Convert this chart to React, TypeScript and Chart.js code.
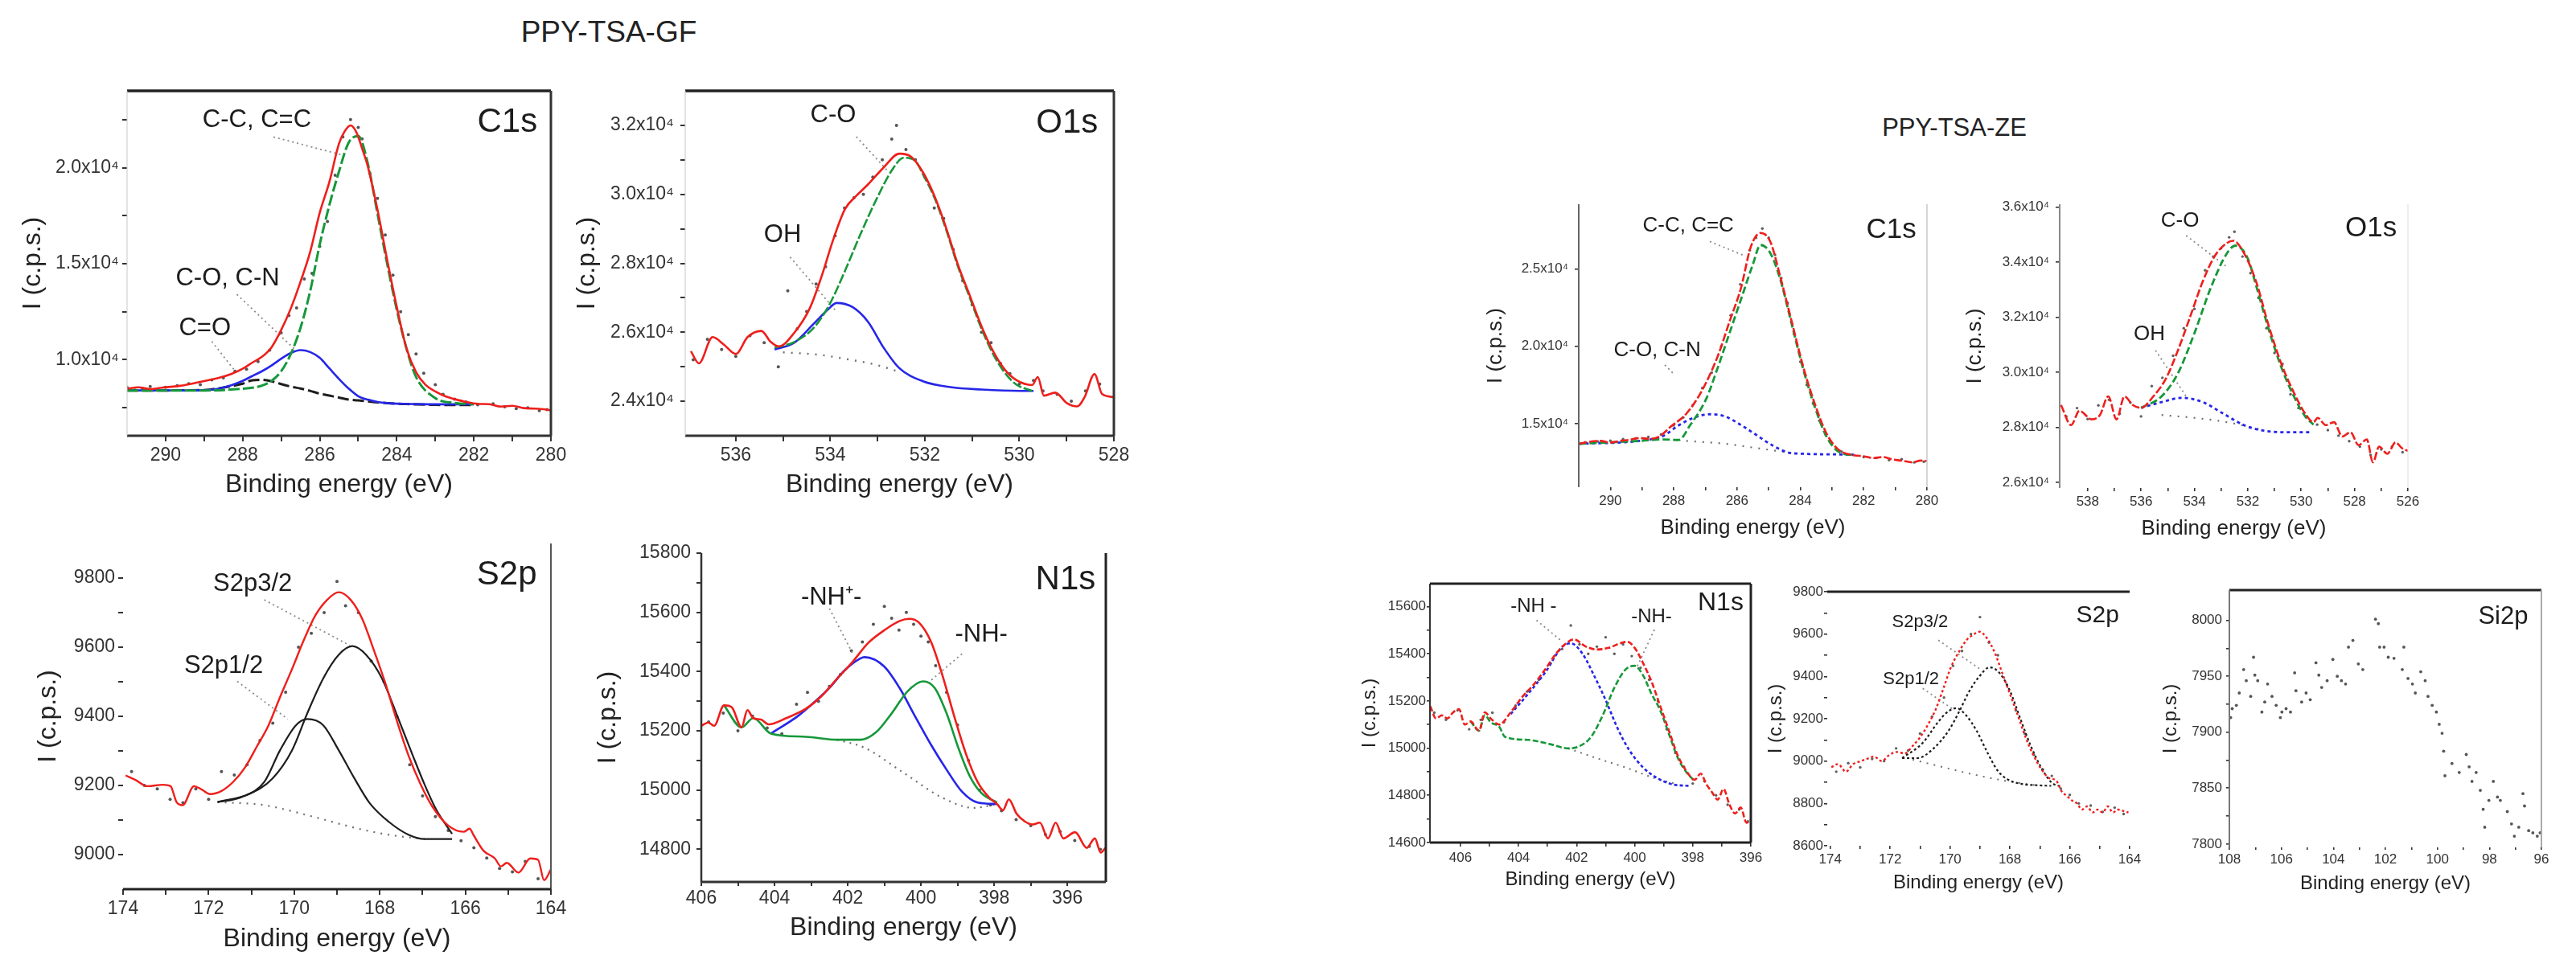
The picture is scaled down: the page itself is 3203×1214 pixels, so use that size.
import React, { useEffect, useRef } from "react";
import { Chart, registerables } from "chart.js";

Chart.register(...registerables);

const FONT = "'Liberation Sans', Arial, Helvetica, sans-serif";
const RED = "#ee1f1c";
const GREEN = "#16983a";
const BLUE = "#2626e8";
const BLACK = "#1e1e1e";
const BGC = "#707070";

// ================= PPY-TSA-GF : C1s =================
const C1S_GF_ENV_E = [291, 290.7, 290.4, 290.1, 289.8, 289.5, 289.2, 288.9, 288.6, 288.3, 288, 287.75, 287.5, 287.25, 287, 286.75, 286.5, 286.25, 286, 285.75, 285.5, 285.35, 285.2, 285.05, 284.9, 284.75, 284.5, 284.25, 284, 283.75, 283.5, 283.25, 283, 282.75, 282.5, 282.2, 281.9, 281.6, 281.3, 281, 280.7, 280.4, 280.1, 280];
const C1S_GF_ENV_I = [8490, 8560, 8470, 8540, 8600, 8680, 8800, 8930, 9060, 9250, 9530, 9850, 10150, 10650, 11550, 12670, 14050, 15600, 17650, 19250, 21250, 21900, 22200, 21850, 21000, 20050, 17800, 15200, 12750, 10600, 9350, 8680, 8350, 8100, 7950, 7800, 7700, 7680, 7560, 7600, 7480, 7450, 7400, 7350];
const C1S_GF_CMP_E = [291, 290, 289, 288.5, 288, 287.75, 287.5, 287.25, 287, 286.75, 286.5, 286.25, 286, 285.75, 285.5, 285.25, 285, 284.75, 284.5, 284.25, 284, 283.75, 283.5, 283, 282.5, 282];
const C1S_GF_CC_I = [8400, 8400, 8400, 8420, 8490, 8540, 8650, 8900, 9400, 10300, 11650, 13550, 16000, 18050, 19800, 21300, 21650, 20200, 17600, 15000, 12600, 10600, 9100, 8000, 7750, 7680];
const C1S_GF_CO_I = [8400, 8400, 8410, 8550, 8900, 9150, 9400, 9700, 10050, 10350, 10500, 10400, 10100, 9550, 9000, 8500, 8100, 7920, 7800, 7740, 7710, 7700, 7690, 7680, 7680, 7680];
const C1S_GF_CEQO_I = [8400, 8400, 8420, 8550, 8750, 8930, 8950, 8880, 8730, 8600, 8500, 8380, 8230, 8130, 8030, 7920, 7880, 7830, 7780, 7740, 7710, 7690, 7670, 7650, 7640, 7640];
const C1S_GF_RAW_E = [291.0, 290.8, 290.6, 290.4, 290.2, 290.0, 289.7, 289.4, 289.1, 288.8, 288.5, 288.2, 287.9, 287.6, 287.3, 287.0, 286.8, 286.6, 286.4, 286.2, 286.0, 285.8, 285.6, 285.4, 285.2, 285.0, 284.9, 284.7, 284.5, 284.3, 284.1, 283.9, 283.7, 283.5, 283.3, 283.0, 282.8, 282.5, 282.2, 281.9, 281.5, 281.2, 280.9, 280.6, 280.3, 280.1];
const C1S_GF_RAW_I = [8550, 8420, 8500, 8600, 8450, 8560, 8650, 8750, 8700, 8950, 9050, 9400, 9500, 9900, 10500, 11400, 12300, 12700, 14200, 14500, 15900, 17200, 19600, 21600, 22500, 22100, 21500, 19700, 18400, 16500, 14400, 12500, 11300, 10300, 9300, 8700, 8200, 7950, 7800, 7650, 7700, 7550, 7450, 7500, 7350, 7400];

// ================= PPY-TSA-GF : O1s =================
const O1S_GF_ENV_E = [536.95, 536.78, 536.49, 536.25, 536.0, 535.75, 535.46, 535.26, 535.09, 534.76, 534.43, 534.19, 533.94, 533.69, 533.44, 533.2, 532.87, 532.54, 532.29, 532.04, 531.79, 531.55, 531.3, 531.05, 530.8, 530.56, 530.31, 530.06, 529.73, 529.61, 529.48, 529.24, 528.99, 528.78, 528.62, 528.41, 528.25, 528.0];
const O1S_GF_ENV_I = [25450, 25100, 25860, 25640, 25370, 25860, 26040, 25720, 25590, 25990, 26710, 27600, 28680, 29570, 29970, 30290, 30780, 31180, 31090, 30640, 29930, 29030, 27960, 27070, 26170, 25460, 24920, 24610, 24470, 24700, 24160, 24250, 23940, 23850, 24120, 24790, 24210, 24120];
const O1S_GF_CO_E = [535.18, 534.76, 534.35, 534.02, 533.69, 533.36, 533.03, 532.7, 532.45, 532.21, 532.04, 531.79, 531.55, 531.3, 531.05, 530.8, 530.56, 530.31, 530.06, 529.73];
const O1S_GF_CO_I = [25550, 25720, 26130, 26800, 27780, 28850, 29840, 30690, 31060, 30980, 30580, 29880, 28980, 27910, 27010, 26100, 25380, 24830, 24480, 24300];
const O1S_GF_OH_E = [535.18, 534.76, 534.35, 534.02, 533.87, 533.53, 533.2, 532.87, 532.54, 532.04, 531.46, 530.8, 529.98, 529.7];
const O1S_GF_OH_I = [25500, 25700, 26250, 26700, 26850, 26730, 26300, 25550, 24960, 24580, 24410, 24340, 24300, 24300];
const O1S_GF_BG_E = [535.0, 534.19, 533.65, 533.07, 532.51];
const O1S_GF_BG_I = [25420, 25340, 25220, 25070, 24840];
const O1S_GF_RAW_E = [536.9, 536.6, 536.3, 536.0, 535.7, 535.4, 535.1, 534.9, 534.7, 534.5, 534.3, 534.1, 533.9, 533.7, 533.5, 533.3, 533.1, 532.9, 532.7, 532.6, 532.4, 532.2, 532.0, 531.8, 531.6, 531.4, 531.2, 531.0, 530.8, 530.6, 530.4, 530.2, 530.0, 529.7, 529.5, 529.2, 528.9, 528.6, 528.3];
const O1S_GF_RAW_I = [25200, 25800, 25500, 25300, 25900, 25700, 25000, 27200, 26100, 26600, 27400, 27900, 28800, 29600, 29900, 30000, 30500, 31000, 31600, 32000, 31300, 31000, 30500, 29600, 29300, 28400, 27500, 26800, 26000, 25700, 25100, 24800, 24500, 24600, 24300, 24200, 24000, 24300, 24500];

// ================= PPY-TSA-GF : S2p =================
const S2P_GF_ENV_E = [173.94, 173.71, 173.43, 173.07, 172.89, 172.75, 172.61, 172.34, 172.16, 171.97, 171.7, 171.42, 171.15, 170.88, 170.6, 170.33, 170.05, 169.78, 169.51, 169.23, 168.96, 168.68, 168.41, 168.14, 167.86, 167.59, 167.32, 167.04, 166.77, 166.4, 166.04, 165.9, 165.81, 165.58, 165.31, 165.17, 165.03, 164.76, 164.48, 164.3, 164.16, 164.0];
const S2P_GF_ENV_I = [9229, 9216, 9198, 9202, 9198, 9152, 9143, 9198, 9188, 9175, 9184, 9211, 9252, 9311, 9374, 9456, 9537, 9619, 9691, 9737, 9759, 9737, 9682, 9592, 9492, 9383, 9284, 9202, 9139, 9084, 9066, 9075, 9057, 9012, 8989, 8966, 8976, 8948, 8989, 8985, 8926, 8957];
const S2P_GF_P32_E = [171.79, 171.06, 170.51, 170.05, 169.69, 169.32, 168.96, 168.64, 168.32, 167.95, 167.59, 167.22, 166.95, 166.68, 166.31];
const S2P_GF_P32_I = [9152, 9175, 9220, 9302, 9410, 9510, 9578, 9603, 9578, 9510, 9401, 9284, 9202, 9130, 9060];
const S2P_GF_P12_E = [171.79, 171.24, 170.7, 170.33, 169.96, 169.69, 169.32, 168.96, 168.59, 168.23, 167.77, 167.32, 166.95, 166.31];
const S2P_GF_P12_I = [9152, 9166, 9210, 9302, 9374, 9392, 9374, 9302, 9220, 9148, 9093, 9057, 9045, 9045];
const S2P_GF_BG_E = [171.79, 170.7, 169.6, 168.5, 167.77, 166.95];
const S2P_GF_BG_I = [9152, 9143, 9111, 9075, 9057, 9045];
const S2P_GF_RAW_E = [173.8, 173.5, 173.2, 172.9, 172.6, 172.3, 172.0, 171.7, 171.4, 171.1, 170.8, 170.5, 170.2, 169.9, 169.6, 169.3, 169.0, 168.8, 168.5, 168.2, 167.9, 167.6, 167.3, 167.0, 166.7, 166.4, 166.1, 165.8, 165.5, 165.2, 164.9, 164.6, 164.3];
const S2P_GF_RAW_I = [9240, 9200, 9190, 9160, 9150, 9190, 9160, 9240, 9230, 9260, 9330, 9380, 9470, 9600, 9640, 9700, 9790, 9720, 9700, 9560, 9500, 9400, 9260, 9170, 9110, 9070, 9040, 9020, 8990, 8960, 8950, 8980, 8930];

// ================= PPY-TSA-GF : N1s =================
const N1S_GF_ENV_E = [406.0, 405.81, 405.65, 405.38, 405.17, 404.9, 404.74, 404.58, 404.37, 404.16, 403.68, 403.14, 402.72, 402.29, 401.86, 401.44, 401.01, 400.58, 400.32, 400.05, 399.73, 399.41, 399.09, 398.77, 398.45, 398.13, 397.92, 397.76, 397.6, 397.39, 397.17, 396.96, 396.75, 396.53, 396.32, 396.11, 395.79, 395.47, 395.25, 395.09, 394.96];
const N1S_GF_ENV_I = [15217, 15228, 15217, 15286, 15280, 15212, 15270, 15243, 15238, 15222, 15243, 15275, 15317, 15376, 15434, 15497, 15539, 15571, 15578, 15565, 15502, 15386, 15249, 15122, 15027, 14974, 14953, 14932, 14969, 14921, 14895, 14884, 14890, 14837, 14890, 14837, 14858, 14805, 14837, 14789, 14805];
const N1S_GF_NH_E = [405.38, 404.9, 404.58, 404.1, 403.14, 402.29, 401.65, 401.22, 400.8, 400.37, 399.94, 399.62, 399.3, 398.98, 398.67, 398.35, 397.92];
const N1S_GF_NH_I = [15286, 15212, 15243, 15191, 15180, 15170, 15170, 15196, 15259, 15333, 15367, 15344, 15259, 15143, 15048, 14990, 14958];
const N1S_GF_NHP_E = [404.1, 403.36, 402.93, 402.5, 402.08, 401.65, 401.54, 401.01, 400.58, 400.16, 399.73, 399.3, 398.88, 398.45, 397.92];
const N1S_GF_NHP_I = [15191, 15250, 15295, 15345, 15405, 15445, 15449, 15418, 15344, 15249, 15154, 15069, 14995, 14958, 14953];
const N1S_GF_BG_E = [402.29, 401.54, 400.48, 399.41, 398.56, 397.92];
const N1S_GF_BG_I = [15170, 15143, 15059, 14974, 14940, 14953];
const N1S_GF_RAW_E = [405.8, 405.4, 405.0, 404.6, 404.2, 403.8, 403.4, 403.1, 402.8, 402.5, 402.2, 401.9, 401.6, 401.3, 401.0, 400.8, 400.6, 400.4, 400.2, 400.0, 399.8, 399.6, 399.3, 399.0, 398.7, 398.4, 398.1, 397.8, 397.4, 397.0, 396.6, 396.2, 395.8, 395.4, 395.1];
const N1S_GF_RAW_I = [15230, 15260, 15200, 15250, 15210, 15190, 15290, 15330, 15300, 15350, 15390, 15470, 15500, 15560, 15620, 15580, 15540, 15600, 15560, 15520, 15500, 15420, 15330, 15220, 15100, 15000, 14950, 14930, 14900, 14880, 14850, 14860, 14830, 14810, 14800];

// ================= PPY-TSA-ZE : C1s =================
const C1S_ZE_ENV_E = [290.99, 290.7, 290.31, 290.0, 289.69, 289.4, 289.08, 288.75, 288.46, 288.09, 287.6, 287.11, 286.61, 286.24, 285.87, 285.57, 285.26, 284.95, 284.64, 284.27, 283.9, 283.53, 283.17, 282.8, 282.31, 282.0, 281.69, 281.4, 281.07, 280.75, 280.46, 280.2, 280.0];
const C1S_ZE_ENV_I = [13704, 13820, 13889, 13780, 13889, 13960, 14074, 14020, 14167, 14815, 15648, 17130, 19352, 21574, 23797, 26389, 27315, 26760, 24537, 21574, 18611, 16204, 14352, 13333, 12963, 12900, 12778, 12850, 12685, 12600, 12500, 12620, 12593];
const C1S_ZE_CC_E = [290.99, 289.08, 288.34, 287.84, 287.48, 286.98, 286.61, 286.24, 285.87, 285.5, 285.26, 284.95, 284.64, 284.27, 283.9, 283.53, 283.17, 282.8, 282.31];
const C1S_ZE_CC_I = [13704, 13889, 13981, 13950, 14907, 16574, 18611, 20833, 23056, 25278, 26537, 26019, 24352, 21400, 18450, 16000, 14150, 13200, 12950];
const C1S_ZE_CO_E = [290.99, 289.08, 288.34, 287.84, 287.35, 286.86, 286.37, 285.87, 285.38, 284.89, 284.4, 283.9, 282.92, 282.31];
const C1S_ZE_CO_I = [13704, 13889, 14200, 14900, 15400, 15611, 15463, 14907, 14259, 13611, 13148, 13056, 13019, 13000];
const C1S_ZE_BG_E = [287.6, 286.37, 285.38, 284.4];
const C1S_ZE_BG_I = [13889, 13704, 13426, 13148];
const C1S_ZE_RAW_E = [290.8, 290.4, 290.0, 289.6, 289.2, 288.8, 288.4, 288.0, 287.7, 287.4, 287.1, 286.8, 286.5, 286.2, 285.9, 285.6, 285.4, 285.2, 285.0, 284.8, 284.6, 284.4, 284.2, 284.0, 283.8, 283.6, 283.4, 283.2, 283.0, 282.7, 282.4, 282.0, 281.6, 281.2, 280.8, 280.4, 280.1];
const C1S_ZE_RAW_I = [13800, 13850, 13900, 14000, 14050, 14150, 14300, 14900, 15400, 16200, 17300, 18300, 20000, 22000, 24000, 26200, 27000, 27600, 27000, 25900, 24400, 22800, 20800, 19000, 17500, 16300, 15200, 14300, 13700, 13200, 13000, 12850, 12800, 12650, 12700, 12500, 12550];

// ================= PPY-TSA-ZE : O1s =================
const O1S_ZE_ENV_E = [539.0, 538.62, 538.31, 537.85, 537.54, 537.23, 536.92, 536.62, 536.31, 536.0, 535.54, 535.08, 534.62, 534.15, 533.69, 533.23, 532.77, 532.54, 532.15, 531.69, 531.23, 530.77, 530.31, 529.85, 529.54, 529.38, 529.08, 528.77, 528.46, 528.15, 527.85, 527.54, 527.31, 527.08, 526.77, 526.46, 526.23, 526.0];
const O1S_ZE_ENV_I = [28813, 28084, 28605, 28292, 28450, 29126, 28292, 29126, 28813, 28709, 29126, 29751, 30792, 32043, 33294, 34232, 34701, 34774, 34336, 33294, 31731, 30376, 29334, 28501, 28188, 28345, 28084, 28188, 27667, 27824, 27355, 27563, 26729, 27303, 27042, 27459, 27250, 27146];
const O1S_ZE_CO_E = [536.0, 535.23, 534.62, 534.0, 533.38, 532.77, 532.46, 532.0, 531.69, 531.23, 530.77, 530.31, 529.85, 529.54];
const O1S_ZE_CO_I = [28709, 29126, 29960, 31418, 33085, 34336, 34597, 34128, 33150, 31600, 30250, 29200, 28400, 28100];
const O1S_ZE_OH_E = [536.0, 535.23, 534.46, 533.69, 532.92, 532.15, 531.38, 530.62, 529.69];
const O1S_ZE_OH_I = [28709, 28918, 29074, 28918, 28501, 28084, 27876, 27824, 27824];
const O1S_ZE_BG_E = [535.23, 534.0, 532.77, 531.54];
const O1S_ZE_BG_I = [28449, 28345, 28188, 27928];
const O1S_ZE_RAW_E = [538.8, 538.4, 538.0, 537.6, 537.2, 536.8, 536.4, 536.0, 535.6, 535.2, 534.8, 534.4, 534.0, 533.6, 533.3, 533.0, 532.7, 532.5, 532.2, 531.9, 531.6, 531.3, 531.0, 530.7, 530.4, 530.1, 529.8, 529.4, 529.0, 528.6, 528.2, 527.8, 527.4, 527.0, 526.6, 526.2];
const O1S_ZE_RAW_I = [28400, 28700, 28300, 28800, 29000, 28500, 28900, 28400, 29500, 29800, 30600, 31600, 32300, 33700, 34200, 34500, 34900, 35100, 34200, 33600, 32700, 31600, 30700, 30300, 29200, 28700, 28400, 28100, 27900, 27700, 27500, 27300, 27000, 27200, 27300, 27100];

// ================= PPY-TSA-ZE : N1s =================
const N1S_ZE_ENV_E = [407.04, 406.84, 406.64, 406.45, 406.25, 406.05, 405.85, 405.65, 405.36, 405.16, 404.96, 404.66, 404.27, 403.87, 403.48, 403.08, 402.68, 402.29, 402.09, 401.69, 401.3, 400.9, 400.5, 400.26, 400.0, 399.71, 399.42, 399.12, 398.82, 398.52, 398.23, 397.93, 397.73, 397.53, 397.34, 397.14, 396.94, 396.74, 396.54, 396.35, 396.15, 396.0];
const N1S_ZE_ENV_I = [15178, 15126, 15139, 15126, 15152, 15165, 15100, 15113, 15074, 15152, 15126, 15100, 15152, 15217, 15269, 15334, 15405, 15451, 15461, 15431, 15418, 15425, 15444, 15451, 15425, 15360, 15282, 15178, 15074, 14970, 14905, 14866, 14892, 14847, 14814, 14782, 14827, 14762, 14723, 14749, 14684, 14697];
const N1S_ZE_NH_E = [405.65, 405.36, 405.16, 404.96, 404.66, 404.47, 403.67, 402.88, 402.29, 401.89, 401.5, 401.1, 400.7, 400.31, 400.0, 399.71, 399.42, 399.12, 398.82, 398.52, 398.23, 397.93];
const N1S_ZE_NH_I = [15113, 15074, 15140, 15110, 15090, 15048, 15035, 15016, 14999, 15009, 15048, 15139, 15256, 15334, 15349, 15308, 15230, 15160, 15060, 14960, 14900, 14860];
const N1S_ZE_NHP_E = [404.27, 403.67, 403.08, 402.49, 402.19, 401.79, 401.4, 401.0, 400.6, 400.21, 399.71, 399.22, 398.72, 398.13];
const N1S_ZE_NHP_I = [15145, 15230, 15321, 15430, 15444, 15399, 15308, 15204, 15087, 14996, 14918, 14873, 14847, 14840];
const N1S_ZE_BG_E = [402.29, 401.3, 400.31, 399.32, 398.52];
const N1S_ZE_BG_I = [14999, 14957, 14918, 14873, 14847];
const N1S_ZE_RAW_E = [406.9, 406.5, 406.1, 405.7, 405.3, 404.9, 404.5, 404.1, 403.7, 403.3, 402.9, 402.5, 402.2, 401.9, 401.6, 401.3, 401.0, 400.7, 400.4, 400.1, 399.8, 399.5, 399.2, 398.9, 398.6, 398.3, 398.0, 397.6, 397.2, 396.8, 396.4, 396.1];
const N1S_ZE_RAW_I = [15150, 15120, 15160, 15080, 15120, 15150, 15110, 15180, 15240, 15290, 15360, 15420, 15520, 15440, 15400, 15430, 15470, 15400, 15440, 15390, 15340, 15290, 15200, 15080, 14980, 14920, 14850, 14860, 14800, 14760, 14740, 14690];

// ================= PPY-TSA-ZE : S2p =================
const S2P_ZE_ENV_E = [173.96, 173.74, 173.48, 173.23, 172.97, 172.71, 172.54, 172.28, 172.03, 171.77, 171.51, 171.25, 170.99, 170.74, 170.48, 170.22, 169.97, 169.71, 169.45, 169.19, 169.02, 168.76, 168.51, 168.25, 167.99, 167.73, 167.48, 167.22, 166.96, 166.7, 166.45, 166.27, 166.1, 165.93, 165.76, 165.59, 165.42, 165.24, 165.07, 164.9, 164.73, 164.56, 164.39, 164.21, 164.04];
const S2P_ZE_ENV_I = [8971, 8986, 8950, 8986, 9000, 9014, 9021, 9000, 9029, 9043, 9036, 9071, 9114, 9171, 9243, 9343, 9443, 9514, 9571, 9600, 9611, 9579, 9514, 9414, 9314, 9214, 9114, 9029, 8964, 8921, 8907, 8857, 8836, 8814, 8800, 8771, 8786, 8757, 8771, 8757, 8786, 8757, 8771, 8764, 8757];
const S2P_ZE_P32_E = [171.6, 171.08, 170.57, 170.05, 169.71, 169.36, 169.02, 168.68, 168.33, 167.99, 167.65, 167.3, 166.96, 166.62, 166.27];
const S2P_ZE_P32_I = [9014, 9014, 9057, 9143, 9229, 9329, 9400, 9443, 9414, 9329, 9200, 9071, 8971, 8900, 8879];
const S2P_ZE_P12_E = [171.6, 170.91, 170.39, 170.05, 169.79, 169.45, 169.11, 168.76, 168.42, 168.08, 167.65, 167.13, 166.62];
const S2P_ZE_P12_I = [9014, 9086, 9186, 9236, 9250, 9214, 9143, 9043, 8957, 8914, 8893, 8886, 8883];
const S2P_ZE_BG_E = [171.25, 170.22, 169.19, 168.16, 167.13];
const S2P_ZE_BG_I = [9007, 8971, 8936, 8907, 8886];
const S2P_ZE_RAW_E = [173.8, 173.4, 173.0, 172.6, 172.2, 171.8, 171.4, 171.0, 170.6, 170.2, 169.9, 169.6, 169.3, 169.0, 168.7, 168.4, 168.1, 167.8, 167.5, 167.2, 166.9, 166.6, 166.3, 166.0, 165.7, 165.3, 164.9, 164.5, 164.2];
const S2P_ZE_RAW_I = [8950, 8990, 8970, 9010, 9000, 9060, 9050, 9130, 9210, 9300, 9450, 9520, 9600, 9680, 9560, 9500, 9360, 9240, 9130, 9030, 8960, 8930, 8870, 8840, 8800, 8790, 8760, 8780, 8750];

// ================= PPY-TSA-ZE : Si2p =================
const SI2P_ZE_RAW_E = [107.95, 107.89, 107.73, 107.62, 107.45, 107.35, 107.18, 107.07, 107.02, 106.91, 106.75, 106.64, 106.53, 106.36, 106.2, 106.04, 105.98, 105.82, 105.65, 105.49, 105.44, 105.22, 105.05, 104.89, 104.67, 104.56, 104.45, 104.24, 104.02, 103.85, 103.69, 103.53, 103.42, 103.25, 103.04, 102.87, 102.38, 102.27, 102.22, 102.05, 101.89, 101.67, 101.35, 101.29, 101.13, 100.96, 100.85, 100.64, 100.47, 100.36, 100.2, 100.04, 99.93, 99.82, 99.76, 99.71, 99.44, 99.16, 98.89, 98.78, 98.67, 98.51, 98.35, 98.24, 98.18, 98.02, 97.85, 97.69, 97.58, 97.31, 97.15, 97.04, 96.87, 96.71, 96.65, 96.49, 96.33, 96.16, 96.05];
const SI2P_ZE_RAW_I = [7913, 7921, 7924, 7935, 7956, 7946, 7932, 7967, 7951, 7946, 7918, 7927, 7943, 7932, 7924, 7913, 7918, 7921, 7918, 7953, 7937, 7927, 7935, 7929, 7962, 7951, 7940, 7946, 7965, 7950, 7946, 7943, 7976, 7982, 7961, 7956, 8001, 7997, 7976, 7976, 7967, 7966, 7956, 7976, 7948, 7943, 7935, 7954, 7946, 7932, 7924, 7918, 7907, 7899, 7883, 7861, 7872, 7864, 7880, 7869, 7856, 7864, 7848, 7831, 7815, 7839, 7856, 7842, 7839, 7829, 7818, 7807, 7815, 7845, 7834, 7812, 7810, 7807, 7810];

// ================= axis ticks =================
const C1S_X_MAJOR = [280, 282, 284, 286, 288, 290];
const C1S_X_MINOR = [281, 283, 285, 287, 289];
const O1S_GF_X_MAJOR = [528, 530, 532, 534, 536];
const O1S_GF_X_MINOR = [529, 531, 533, 535];
const O1S_ZE_X_MAJOR = [526, 528, 530, 532, 534, 536, 538];
const O1S_ZE_X_MINOR = [527, 529, 531, 533, 535, 537];
const S2P_X_MAJOR = [164, 166, 168, 170, 172, 174];
const S2P_X_MINOR = [165, 167, 169, 171, 173];
const N1S_X_MAJOR = [396, 398, 400, 402, 404, 406];
const N1S_X_MINOR = [397, 399, 401, 403, 405];
const SI2P_X_MAJOR = [96, 98, 100, 102, 104, 106, 108];
const SI2P_X_MINOR = [97, 99, 101, 103, 105, 107];

const C1S_GF_Y = [10000, 15000, 20000];
const C1S_GF_Y_LABELS = ["1.0x10⁴", "1.5x10⁴", "2.0x10⁴"];
const C1S_GF_Y_MINOR = [7500, 12500, 17500, 22500];
const O1S_GF_Y = [24000, 26000, 28000, 30000, 32000];
const O1S_GF_Y_LABELS = ["2.4x10⁴", "2.6x10⁴", "2.8x10⁴", "3.0x10⁴", "3.2x10⁴"];
const O1S_GF_Y_MINOR = [25000, 27000, 29000, 31000];
const S2P_GF_Y = [9000, 9200, 9400, 9600, 9800];
const S2P_GF_Y_LABELS = ["9000", "9200", "9400", "9600", "9800"];
const S2P_GF_Y_MINOR = [9100, 9300, 9500, 9700];
const N1S_GF_Y = [14800, 15000, 15200, 15400, 15600, 15800];
const N1S_GF_Y_LABELS = ["14800", "15000", "15200", "15400", "15600", "15800"];
const N1S_GF_Y_MINOR = [14900, 15100, 15300, 15500, 15700];
const C1S_ZE_Y = [15000, 20000, 25000];
const C1S_ZE_Y_LABELS = ["1.5x10⁴", "2.0x10⁴", "2.5x10⁴"];
const O1S_ZE_Y = [26000, 28000, 30000, 32000, 34000, 36000];
const O1S_ZE_Y_LABELS = ["2.6x10⁴", "2.8x10⁴", "3.0x10⁴", "3.2x10⁴", "3.4x10⁴", "3.6x10⁴"];
const N1S_ZE_Y = [14600, 14800, 15000, 15200, 15400, 15600];
const N1S_ZE_Y_LABELS = ["14600", "14800", "15000", "15200", "15400", "15600"];
const N1S_ZE_Y_MINOR = [14700, 14900, 15100, 15300, 15500];
const S2P_ZE_Y = [8600, 8800, 9000, 9200, 9400, 9600, 9800];
const S2P_ZE_Y_LABELS = ["8600", "8800", "9000", "9200", "9400", "9600", "9800"];
const S2P_ZE_Y_MINOR = [8700, 8900, 9100, 9300, 9500, 9700];
const SI2P_ZE_Y = [7800, 7850, 7900, 7950, 8000];
const SI2P_ZE_Y_LABELS = ["7800", "7850", "7900", "7950", "8000"];
const SI2P_ZE_Y_MINOR = [7825, 7875, 7925, 7975];

// ================= types & panel tables =================
type XY = [number[], number[]];
interface Curve { d: XY; color: string; width: number; dash?: number[] }
interface Note { text: string; at: [number, number]; size: number }
interface Side { side: string; w: number; c: string }
interface Panel {
  area: [number, number, number, number];
  yW: number; xH: number; padT: number; padR: number;
  x: [number, number]; y: [number, number];
  xMajor: number[]; xMinor: number[];
  yMajor: number[]; yLabels: string[]; yMinor: number[];
  tickSize: number; xTick: [number, number]; yTick: [number, number]; tickW: number;
  titleSize: number; yTitlePad: number;
  curves: Curve[]; leaders: XY[]; raw: XY; rawR: number; rawC: string;
  notes: Note[]; frame: Side[];
}

const PANELS: Panel[] = [
  {
    area: [158, 113, 685, 542], yW: 158, xH: 80, padT: 40, padR: 24,
    x: [280, 291], y: [6040, 24000],
    xMajor: C1S_X_MAJOR, xMinor: C1S_X_MINOR, yMajor: C1S_GF_Y, yLabels: C1S_GF_Y_LABELS, yMinor: C1S_GF_Y_MINOR,
    tickSize: 23, xTick: [7, 4], yTick: [6, 4], tickW: 2, titleSize: 32, yTitlePad: 22,
    curves: [
      { d: [C1S_GF_ENV_E, C1S_GF_ENV_I], color: RED, width: 2.6 },
      { d: [C1S_GF_CMP_E, C1S_GF_CC_I], color: GREEN, width: 3, dash: [14, 4] },
      { d: [C1S_GF_CMP_E, C1S_GF_CO_I], color: BLUE, width: 2.6 },
      { d: [C1S_GF_CMP_E, C1S_GF_CEQO_I], color: BLACK, width: 3, dash: [14, 5] },
    ],
    leaders: [[[287.2, 285.4], [21600, 20650]], [[288.15, 286.6], [13400, 10450]], [[288.8, 288.2], [10950, 9420]]],
    raw: [C1S_GF_RAW_E, C1S_GF_RAW_I], rawR: 2, rawC: "#555555",
    notes: [
      { text: "C-C, C=C", at: [287.63, 22486], size: 31 },
      { text: "C-O, C-N", at: [288.39, 14232], size: 31 },
      { text: "C=O", at: [288.98, 11651], size: 31 },
      { text: "C1s", at: [281.13, 22348], size: 42 },
    ],
    frame: [{ side: "top", w: 3.5, c: "#222" }, { side: "right", w: 3, c: "#333" }, { side: "bottom", w: 3, c: "#333" }, { side: "left", w: 1, c: "#c8c8c8" }],
  },
  {
    area: [852, 113, 1385, 542], yW: 142, xH: 80, padT: 40, padR: 24,
    x: [528, 537.07], y: [23000, 33000],
    xMajor: O1S_GF_X_MAJOR, xMinor: O1S_GF_X_MINOR, yMajor: O1S_GF_Y, yLabels: O1S_GF_Y_LABELS, yMinor: O1S_GF_Y_MINOR,
    tickSize: 23, xTick: [7, 4], yTick: [6, 8], tickW: 2, titleSize: 32, yTitlePad: 1,
    curves: [
      { d: [O1S_GF_ENV_E, O1S_GF_ENV_I], color: RED, width: 2.6 },
      { d: [O1S_GF_CO_E, O1S_GF_CO_I], color: GREEN, width: 2.6, dash: [12, 3] },
      { d: [O1S_GF_OH_E, O1S_GF_OH_I], color: BLUE, width: 2.6 },
      { d: [O1S_GF_BG_E, O1S_GF_BG_I], color: BGC, width: 2.4, dash: [2, 8] },
    ],
    leaders: [[[533.45, 532.8], [31670, 30700]], [[534.85, 533.9], [28180, 26650]]],
    raw: [O1S_GF_RAW_E, O1S_GF_RAW_I], rawR: 2, rawC: "#555555",
    notes: [
      { text: "C-O", at: [533.94, 32296], size: 31 },
      { text: "OH", at: [535.01, 28810], size: 31 },
      { text: "O1s", at: [528.99, 32066], size: 42 },
    ],
    frame: [{ side: "top", w: 3.5, c: "#222" }, { side: "right", w: 3, c: "#333" }, { side: "bottom", w: 3, c: "#333" }, { side: "left", w: 1, c: "#c8c8c8" }],
  },
  {
    area: [153, 676, 685, 1106], yW: 153, xH: 81, padT: 30, padR: 24,
    x: [164, 174], y: [8900, 9900],
    xMajor: S2P_X_MAJOR, xMinor: S2P_X_MINOR, yMajor: S2P_GF_Y, yLabels: S2P_GF_Y_LABELS, yMinor: S2P_GF_Y_MINOR,
    tickSize: 23, xTick: [7, 4], yTick: [6, 4], tickW: 2, titleSize: 32, yTitlePad: 41,
    curves: [
      { d: [S2P_GF_ENV_E, S2P_GF_ENV_I], color: RED, width: 2.4 },
      { d: [S2P_GF_P32_E, S2P_GF_P32_I], color: BLACK, width: 2.2 },
      { d: [S2P_GF_P12_E, S2P_GF_P12_I], color: BLACK, width: 2.2 },
      { d: [S2P_GF_BG_E, S2P_GF_BG_I], color: BGC, width: 2.2, dash: [2, 7] },
    ],
    leaders: [[[170.7, 168.7], [9737, 9605]], [[171.33, 170.15], [9501, 9392]]],
    raw: [S2P_GF_RAW_E, S2P_GF_RAW_I], rawR: 2, rawC: "#555555",
    notes: [
      { text: "S2p3/2", at: [170.97, 9782], size: 31 },
      { text: "S2p1/2", at: [171.65, 9546], size: 31 },
      { text: "S2p", at: [165.03, 9809], size: 42 },
    ],
    frame: [{ side: "right", w: 2, c: "#555" }, { side: "bottom", w: 3, c: "#222" }],
  },
  {
    area: [872, 688, 1375, 1097], yW: 136, xH: 76, padT: 30, padR: 24,
    x: [394.95, 406], y: [14690, 15800],
    xMajor: N1S_X_MAJOR, xMinor: N1S_X_MINOR, yMajor: N1S_GF_Y, yLabels: N1S_GF_Y_LABELS, yMinor: N1S_GF_Y_MINOR,
    tickSize: 23, xTick: [5, 2], yTick: [6, 7], tickW: 2, titleSize: 32, yTitlePad: 1,
    curves: [
      { d: [N1S_GF_ENV_E, N1S_GF_ENV_I], color: RED, width: 2.6 },
      { d: [N1S_GF_NH_E, N1S_GF_NH_I], color: GREEN, width: 2.6 },
      { d: [N1S_GF_NHP_E, N1S_GF_NHP_I], color: BLUE, width: 2.6 },
      { d: [N1S_GF_BG_E, N1S_GF_BG_I], color: BGC, width: 2.2, dash: [2, 6] },
    ],
    leaders: [[[402.5, 401.86], [15613, 15460]], [[398.88, 399.73], [15460, 15370]]],
    raw: [N1S_GF_RAW_E, N1S_GF_RAW_I], rawR: 2, rawC: "#555555",
    notes: [
      { text: "-NH⁺-", at: [402.45, 15650], size: 31 },
      { text: "-NH-", at: [398.35, 15525], size: 31 },
      { text: "N1s", at: [396.05, 15708], size: 42 },
    ],
    frame: [{ side: "left", w: 2.5, c: "#333" }, { side: "right", w: 3, c: "#222" }, { side: "bottom", w: 3, c: "#333" }],
  },
  {
    area: [1963, 254, 2396, 606], yW: 119, xH: 66, padT: 30, padR: 18,
    x: [280, 291], y: [10900, 29170],
    xMajor: C1S_X_MAJOR, xMinor: C1S_X_MINOR, yMajor: C1S_ZE_Y, yLabels: C1S_ZE_Y_LABELS, yMinor: [],
    tickSize: 17, xTick: [4, 3], yTick: [5, 8], tickW: 1.6, titleSize: 26, yTitlePad: 0,
    curves: [
      { d: [C1S_ZE_ENV_E, C1S_ZE_ENV_I], color: RED, width: 2.6, dash: [10, 3] },
      { d: [C1S_ZE_CC_E, C1S_ZE_CC_I], color: GREEN, width: 2.8, dash: [9, 4] },
      { d: [C1S_ZE_CO_E, C1S_ZE_CO_I], color: BLUE, width: 2.8, dash: [4, 4] },
      { d: [C1S_ZE_BG_E, C1S_ZE_BG_I], color: BGC, width: 2.2, dash: [2, 8] },
    ],
    leaders: [[[286.86, 285.75], [26760, 25833]], [[288.28, 287.97], [18796, 18148]]],
    raw: [C1S_ZE_RAW_E, C1S_ZE_RAW_I], rawR: 1.7, rawC: "#606060",
    notes: [
      { text: "C-C, C=C", at: [287.54, 27778], size: 26 },
      { text: "C-O, C-N", at: [288.52, 19722], size: 26 },
      { text: "C1s", at: [281.13, 27500], size: 35 },
    ],
    frame: [{ side: "left", w: 2, c: "#666" }, { side: "right", w: 1.5, c: "#c8c8c8" }],
  },
  {
    area: [2561, 254, 2994, 607], yW: 121, xH: 66, padT: 30, padR: 18,
    x: [526, 539.05], y: [25800, 36100],
    xMajor: O1S_ZE_X_MAJOR, xMinor: O1S_ZE_X_MINOR, yMajor: O1S_ZE_Y, yLabels: O1S_ZE_Y_LABELS, yMinor: [],
    tickSize: 17, xTick: [4, 3], yTick: [5, 8], tickW: 1.6, titleSize: 26, yTitlePad: 0,
    curves: [
      { d: [O1S_ZE_ENV_E, O1S_ZE_ENV_I], color: RED, width: 2.6, dash: [10, 3] },
      { d: [O1S_ZE_CO_E, O1S_ZE_CO_I], color: GREEN, width: 2.8, dash: [9, 4] },
      { d: [O1S_ZE_OH_E, O1S_ZE_OH_I], color: BLUE, width: 2.8, dash: [4, 4] },
      { d: [O1S_ZE_BG_E, O1S_ZE_BG_I], color: BGC, width: 2.2, dash: [2, 8] },
    ],
    leaders: [[[534.31, 532.77], [34961, 33815]], [[535.46, 534.31], [30793, 29126]]],
    raw: [O1S_ZE_RAW_E, O1S_ZE_RAW_I], rawR: 1.7, rawC: "#606060",
    notes: [
      { text: "C-O", at: [534.54, 35482], size: 26 },
      { text: "OH", at: [535.69, 31366], size: 26 },
      { text: "O1s", at: [527.38, 35222], size: 35 },
    ],
    frame: [{ side: "left", w: 2, c: "#888" }, { side: "right", w: 1, c: "#dcdcdc" }],
  },
  {
    area: [1778, 726, 2177, 1048], yW: 90, xH: 61, padT: 20, padR: 14,
    x: [396, 407.05], y: [14600, 15697],
    xMajor: N1S_X_MAJOR, xMinor: N1S_X_MINOR, yMajor: N1S_ZE_Y, yLabels: N1S_ZE_Y_LABELS, yMinor: N1S_ZE_Y_MINOR,
    tickSize: 17, xTick: [5, 4], yTick: [4, 1], tickW: 1.6, titleSize: 24, yTitlePad: 1,
    curves: [
      { d: [N1S_ZE_ENV_E, N1S_ZE_ENV_I], color: RED, width: 2.6, dash: [7, 3] },
      { d: [N1S_ZE_NH_E, N1S_ZE_NH_I], color: GREEN, width: 2.6, dash: [7, 3] },
      { d: [N1S_ZE_NHP_E, N1S_ZE_NHP_I], color: BLUE, width: 2.6, dash: [4, 3] },
      { d: [N1S_ZE_BG_E, N1S_ZE_BG_I], color: BGC, width: 2, dash: [2, 6] },
    ],
    leaders: [[[403.38, 402.49], [15542, 15451]], [[399.32, 399.91], [15502, 15347]]],
    raw: [N1S_ZE_RAW_E, N1S_ZE_RAW_I], rawR: 1.7, rawC: "#606060",
    notes: [
      { text: "-NH -", at: [403.48, 15600], size: 24 },
      { text: "-NH-", at: [399.42, 15555], size: 24 },
      { text: "N1s", at: [397.04, 15613], size: 32 },
    ],
    frame: [{ side: "top", w: 3, c: "#222" }, { side: "right", w: 3, c: "#222" }, { side: "bottom", w: 3, c: "#222" }, { side: "left", w: 2, c: "#333" }],
  },
  {
    area: [2272, 736, 2648, 1052], yW: 80, xH: 61, padT: 20, padR: 14,
    x: [164, 174.1], y: [8600, 9800],
    xMajor: S2P_X_MAJOR, xMinor: S2P_X_MINOR, yMajor: S2P_ZE_Y, yLabels: S2P_ZE_Y_LABELS, yMinor: S2P_ZE_Y_MINOR,
    tickSize: 17, xTick: [4, 3], yTick: [4, 1], tickW: 1.6, titleSize: 24, yTitlePad: 2,
    curves: [
      { d: [S2P_ZE_ENV_E, S2P_ZE_ENV_I], color: RED, width: 2.4, dash: [3, 3] },
      { d: [S2P_ZE_P32_E, S2P_ZE_P32_I], color: BLACK, width: 2.2, dash: [3, 3] },
      { d: [S2P_ZE_P12_E, S2P_ZE_P12_I], color: BLACK, width: 2.2, dash: [3, 3] },
      { d: [S2P_ZE_BG_E, S2P_ZE_BG_I], color: BGC, width: 2, dash: [2, 7] },
    ],
    leaders: [[[170.39, 168.94], [9571, 9429]], [[170.91, 169.88], [9343, 9243]]],
    raw: [S2P_ZE_RAW_E, S2P_ZE_RAW_I], rawR: 1.7, rawC: "#606060",
    notes: [
      { text: "S2p3/2", at: [171.0, 9657], size: 22 },
      { text: "S2p1/2", at: [171.3, 9386], size: 22 },
      { text: "S2p", at: [165.07, 9686], size: 30 },
    ],
    frame: [{ side: "top", w: 3, c: "#222" }],
  },
  {
    area: [2772, 734, 3160, 1054], yW: 87, xH: 60, padT: 20, padR: 14,
    x: [96, 108], y: [7797, 8027],
    xMajor: SI2P_X_MAJOR, xMinor: SI2P_X_MINOR, yMajor: SI2P_ZE_Y, yLabels: SI2P_ZE_Y_LABELS, yMinor: SI2P_ZE_Y_MINOR,
    tickSize: 17, xTick: [3, 2], yTick: [4, 5], tickW: 1.6, titleSize: 24, yTitlePad: 0,
    curves: [],
    leaders: [],
    raw: [SI2P_ZE_RAW_E, SI2P_ZE_RAW_I], rawR: 1.9, rawC: "#555555",
    notes: [{ text: "Si2p", at: [97.47, 8003], size: 31 }],
    frame: [{ side: "top", w: 3, c: "#222" }, { side: "left", w: 2, c: "#777" }, { side: "right", w: 2, c: "#aaa" }],
  },
];

function PanelChart({ p }: { p: Panel }) {
  const ref = useRef<HTMLCanvasElement | null>(null);
  const [l, t, r, b] = p.area;
  const left = l - p.yW;
  const top = t - p.padT;
  const width = r + p.padR - left;
  const height = b + p.xH - top;

  useEffect(() => {
    const canvas = ref.current;
    if (!canvas) return;
    const yMap = new Map<number, string>(p.yMajor.map((v, k) => [v, p.yLabels[k]] as [number, string]));
    const pts = (d: XY) => d[0].map((x, k) => ({ x, y: d[1][k] }));
    const datasets: any[] = [];
    p.curves.forEach((c) =>
      datasets.push({
        data: pts(c.d), borderColor: c.color, borderWidth: c.width, borderDash: c.dash || [],
        pointRadius: 0, showLine: true, fill: false, cubicInterpolationMode: "monotone",
      })
    );
    p.leaders.forEach((d) =>
      datasets.push({
        data: pts(d), borderColor: "#8a8a8a", borderWidth: 1.8, borderDash: [2, 4],
        pointRadius: 0, showLine: true, fill: false, tension: 0,
      })
    );
    datasets.push({
      data: pts(p.raw), showLine: false, pointRadius: p.rawR, pointBackgroundColor: p.rawC,
      pointBorderWidth: 0, borderColor: "rgba(0,0,0,0)",
    });
    const font = (size: number) => ({ family: FONT, size });
    const xTicks = [...p.xMajor, ...p.xMinor].sort((a, c) => a - c);
    const yTicks = [...p.yMajor, ...p.yMinor].sort((a, c) => a - c);

    const deco = {
      id: "deco",
      afterDraw(ch: any) {
        const { ctx, chartArea: a, scales } = ch;
        ctx.save();
        p.frame.forEach((s) => {
          ctx.strokeStyle = s.c;
          ctx.lineWidth = s.w;
          ctx.beginPath();
          if (s.side === "top") { ctx.moveTo(a.left, a.top); ctx.lineTo(a.right, a.top); }
          if (s.side === "bottom") { ctx.moveTo(a.left, a.bottom); ctx.lineTo(a.right, a.bottom); }
          if (s.side === "left") { ctx.moveTo(a.left, a.top); ctx.lineTo(a.left, a.bottom); }
          if (s.side === "right") { ctx.moveTo(a.right, a.top); ctx.lineTo(a.right, a.bottom); }
          ctx.stroke();
        });
        ctx.fillStyle = "#1c1c1c";
        ctx.textAlign = "center";
        ctx.textBaseline = "middle";
        p.notes.forEach((n) => {
          ctx.font = `${n.size}px ${FONT}`;
          ctx.fillText(n.text, scales.x.getPixelForValue(n.at[0]), scales.y.getPixelForValue(n.at[1]));
        });
        ctx.restore();
      },
    };

    const chart = new Chart(canvas, {
      type: "line",
      data: { datasets },
      options: {
        animation: false,
        responsive: false,
        devicePixelRatio: 1,
        events: [],
        layout: { padding: { top: p.padT, right: p.padR, left: 0, bottom: 0 } },
        plugins: { legend: { display: false }, tooltip: { enabled: false }, title: { display: false } },
        scales: {
          x: {
            type: "linear", reverse: true, min: p.x[0], max: p.x[1],
            afterBuildTicks: (ax: any) => { ax.ticks = xTicks.map((v) => ({ value: v })); },
            afterFit: (ax: any) => { ax.height = p.xH; },
            ticks: {
              autoSkip: false, maxRotation: 0, minRotation: 0, padding: p.xTick[1],
              font: font(p.tickSize), color: "#333",
              callback: (v: any) => (p.xMajor.indexOf(Number(v)) >= 0 ? String(v) : ""),
            },
            grid: { drawOnChartArea: false, drawTicks: true, tickLength: p.xTick[0], color: "#333", tickColor: "#333", tickWidth: p.tickW, lineWidth: p.tickW },
            border: { display: false },
            title: { display: true, text: "Binding energy (eV)", font: font(p.titleSize), color: "#222", padding: { top: 0, bottom: 0 } },
          },
          y: {
            type: "linear", min: p.y[0], max: p.y[1],
            afterBuildTicks: (ax: any) => { ax.ticks = yTicks.map((v) => ({ value: v })); },
            afterFit: (ax: any) => { ax.width = p.yW; },
            ticks: {
              autoSkip: false, padding: p.yTick[1], font: font(p.tickSize), color: "#333",
              callback: (v: any) => yMap.get(Number(v)) || "",
            },
            grid: { drawOnChartArea: false, drawTicks: true, tickLength: p.yTick[0], color: "#333", tickColor: "#333", tickWidth: p.tickW, lineWidth: p.tickW },
            border: { display: false },
            title: { display: true, text: "I (c.p.s.)", font: font(p.titleSize), color: "#222", padding: { top: p.yTitlePad, bottom: 0 } },
          },
        },
      } as any,
      plugins: [deco],
    });
    return () => chart.destroy();
  }, [p]);

  return (
    <canvas
      ref={ref}
      width={width}
      height={height}
      style={{ position: "absolute", left, top, width, height }}
    />
  );
}

export default function App() {
  return (
    <div
      style={{
        position: "fixed", left: 0, top: 0, width: 3203, height: 1214,
        background: "#ffffff", overflow: "hidden", fontFamily: FONT,
      }}
    >
      <div style={{ position: "absolute", left: 557, top: 18, width: 400, textAlign: "center", fontSize: 37, lineHeight: "44px", color: "#222" }}>
        PPY-TSA-GF
      </div>
      <div style={{ position: "absolute", left: 2230, top: 140, width: 400, textAlign: "center", fontSize: 31, lineHeight: "38px", color: "#222" }}>
        PPY-TSA-ZE
      </div>
      {PANELS.map((p, k) => (
        <PanelChart key={k} p={p} />
      ))}
    </div>
  );
}
